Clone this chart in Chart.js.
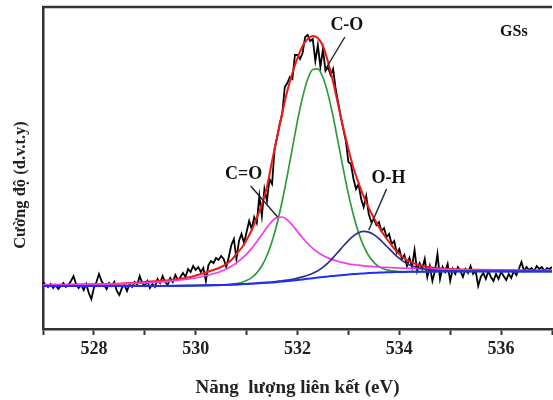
<!DOCTYPE html>
<html>
<head>
<meta charset="utf-8">
<script src="https://cdn.jsdelivr.net/npm/chart.js@4.4.1/dist/chart.umd.min.js"></script>
<style>
body {
  margin: 0;
  overflow: hidden;
  background: #ffffff;
}
.chart-container {
  position: relative;
  width: 556px;
  height: 400px;
}
</style>
</head>
<body>

<div class="chart-container">
  <canvas id="chart"></canvas>
</div>

<script>
// x (eV) cua cac duong fit
var fitEnergy = [527, 527.5, 528, 528.5, 529, 529.4, 529.8, 530.1,
  530.4, 530.5, 530.6, 530.7, 530.8, 530.9, 531.0, 531.1, 531.2, 531.3,
  531.4, 531.5, 531.6, 531.7, 531.8, 531.9, 532.0, 532.1, 532.2, 532.3,
  532.4, 532.5, 532.6, 532.7, 532.8, 532.9, 533.0, 533.1, 533.2, 533.3,
  533.4, 533.5, 533.6, 533.7, 533.8, 533.9, 534.0, 534.1, 534.2, 534.3,
  534.4, 534.7, 535, 535.5, 536, 536.5, 537];

// nen (blue)
var fitBackground = [43, 43, 43, 43, 43, 43.1, 43.3, 43.5,
  43.8, 43.9, 44.1, 44.3, 44.5, 44.7, 45.0, 45.3, 45.6, 45.9,
  46.2, 46.5, 47.0, 47.4, 47.9, 48.4, 49.0, 49.6, 50.2, 50.8,
  51.4, 52.0, 52.6, 53.1, 53.6, 54.1, 54.5, 54.9, 55.3, 55.6,
  55.9, 56.2, 56.4, 56.6, 56.8, 56.9, 57.0, 57.1, 57.2, 57.3,
  57.3, 57.4, 57.5, 57.5, 57.5, 57.5, 57.5];

// C-O (green)
var fitCO = [43, 43, 43, 43, 43, 43.1, 43.3, 43.5,
  43.8, 44.0, 44.3, 44.7, 45.4, 46.5, 48.4, 51.4, 56.1, 63.2,
  73.5, 87.5, 105.8, 128.0, 153.7, 181.1, 208.2, 231.9, 249.7, 259.5,
  260.1, 251.5, 234.9, 212.3, 186.3, 159.9, 135.1, 113.7, 96.3, 82.9,
  73.2, 66.7, 62.5, 60.0, 58.6, 57.8, 57.4, 57.3, 57.3, 57.3,
  57.3, 57.4, 57.5, 57.5, 57.5, 57.5, 57.5];

// C=O (magenta)
var fitCdO = [44.1, 44.3, 44.7, 45.3, 46.2, 47.4, 49.5, 52.0,
  56.0, 57.8, 60.1, 62.8, 66.1, 70.1, 74.9, 80.6, 87.2, 94.4,
  101.6, 107.7, 111.6, 112.0, 109.1, 103.8, 97.5, 91.2, 85.5, 80.7,
  76.8, 73.6, 71.1, 69.1, 67.5, 66.3, 65.2, 64.4, 63.8, 63.2,
  62.7, 62.4, 62.0, 61.7, 61.5, 61.2, 61.0, 60.8, 60.6, 60.5,
  60.3, 59.8, 59.5, 59.0, 58.7, 58.5, 58.3];

// O-H (navy)
var fitOH = [43, 43, 43, 43, 43, 43.1, 43.3, 43.6,
  43.9, 44.0, 44.2, 44.4, 44.6, 44.9, 45.2, 45.5, 45.9, 46.3,
  46.6, 47.0, 47.6, 48.2, 48.9, 49.7, 50.8, 52.1, 53.7, 55.8,
  58.3, 61.8, 66.2, 71.4, 77.1, 83.0, 88.4, 93.1, 96.3, 97.6,
  96.9, 94.4, 90.3, 85.4, 80.3, 75.2, 70.6, 66.9, 64.1, 62.3,
  60.8, 58.7, 58.1, 57.8, 57.7, 57.6, 57.6];

// tong fit (red)
var fitEnvelope = [44.1, 44.3, 44.7, 45.3, 47, 48.5, 51, 55,
  60, 62, 65, 69, 75, 81, 89, 99, 111, 125,
  142, 168, 192, 216, 238, 256, 271, 283, 290, 293,
  291, 283, 267, 247, 224, 201, 180, 161, 146, 132.5,
  121, 111, 102, 94, 87, 80.4, 75, 70.8, 67.6, 65.5,
  63.8, 61.1, 60.1, 59.3, 58.9, 58.6, 58.4];

// so lieu do (black), 527.00 -> 537.00 eV, buoc 0.05 eV
var rawStart = 527.0;
var rawStep = 0.05;
var rawCounts = [
  47, 44, 42, 45, 41, 44, 40, 43, 46, 42, 44, 48, 53, 45, 41, 44, 39, 45, 36, 30,
  41, 47, 55, 48, 44, 40, 46, 43, 47, 38, 34, 41, 44, 38, 45, 42, 47, 44, 53, 46,
  43, 48, 41, 45, 42, 50, 46, 53, 47, 44, 51, 47, 54, 49, 52, 56, 52, 60, 57, 63,
  59, 62, 57, 61, 48, 64, 68, 66, 71, 69, 73, 70, 62, 72, 84, 90, 70, 88, 95, 86,
  97, 108, 100, 112, 106, 133, 113, 140, 128, 150, 145, 180, 192, 205, 215, 242, 246, 252, 250, 274,
  274, 270, 276, 292, 294, 288, 290, 268, 284, 262, 280, 258, 262, 254, 260, 240, 226, 212, 200, 188,
  167, 165, 150, 140, 145, 130, 122, 133, 115, 107, 110, 104, 107, 98, 101, 92, 95, 85, 88, 76,
  80, 70, 74, 63, 71, 62, 79, 58, 66, 60, 70, 52, 63, 48, 58, 75, 50, 62, 57, 65,
  48, 60, 55, 62, 58, 52, 60, 56, 63, 55, 58, 43, 52, 56, 50, 58, 52, 48, 55, 50,
  57, 53, 49, 55, 51, 58, 54, 60, 67, 58, 62, 59, 61, 58, 63, 60, 62, 58, 61, 60,
  62];

var xTicksMin = 527;
var xTicksMax = 537;

// nhan tren do thi
var peakLabels = [
  {text: "C-O", x: 532.97, y: 304, from: [532.93, 292], to: [532.54, 259]},
  {text: "C=O", x: 530.94, y: 155, from: [531.08, 143], to: [531.61, 112]},
  {text: "O-H", x: 533.79, y: 151, from: [533.75, 140], to: [533.40, 99]},
  {text: "GSs", x: 536.25, y: 297}
];

function pairs(xs, ys) {
  var out = [];
  for (var i = 0; i < ys.length; i++) out.push({x: xs[i], y: ys[i]});
  return out;
}

var rawData = [];
for (var i = 0; i < rawCounts.length; i++) {
  rawData.push({x: +(rawStart + i * rawStep).toFixed(2), y: rawCounts[i]});
}

var serif = "'Liberation Serif', 'Times New Roman', serif";

// ve khung tren, nhan va tieu de truc y
var decorations = {
  id: "decorations",
  afterDatasetsDraw: function(chart) {
    var ctx = chart.ctx;
    var a = chart.chartArea;
    var sx = chart.scales.x, sy = chart.scales.y;
    ctx.save();
    ctx.strokeStyle = "#333";
    ctx.lineWidth = 2.5;
    ctx.beginPath();
    ctx.moveTo(a.left - 1, a.top);
    ctx.lineTo(a.right, a.top);
    ctx.stroke();

    ctx.fillStyle = "#111";
    ctx.strokeStyle = "#222";
    ctx.lineWidth = 1.4;
    ctx.textAlign = "center";
    ctx.textBaseline = "middle";
    peakLabels.forEach(function(l) {
      ctx.font = "bold " + (l.text == "GSs" ? 16 : 18) + "px " + serif;
      ctx.fillText(l.text, sx.getPixelForValue(l.x), sy.getPixelForValue(l.y));
      if (l.from) {
        ctx.beginPath();
        ctx.moveTo(sx.getPixelForValue(l.from[0]), sy.getPixelForValue(l.from[1]));
        ctx.lineTo(sx.getPixelForValue(l.to[0]), sy.getPixelForValue(l.to[1]));
        ctx.stroke();
      }
    });

    ctx.translate(21, 185);
    ctx.rotate(-Math.PI / 2);
    ctx.fillStyle = "#222";
    ctx.font = "bold 16.5px " + serif;
    ctx.fillText("Cường độ (d.v.t.y)", 0, 0);
    ctx.restore();
  }
};

function line(label, data, color, width, order, smooth) {
  return {
    label: label,
    data: data,
    borderColor: color,
    borderWidth: width,
    pointRadius: 0,
    fill: false,
    order: order,
    tension: 0,
    cubicInterpolationMode: smooth ? "monotone" : "default"
  };
}

var ctx = document.getElementById("chart");
var chart = new Chart(ctx, {
  type: "line",
  data: {
    datasets: [
      line("Nền", pairs(fitEnergy, fitBackground), "#1f2dff", 2, 1, true),
      line("O-H", pairs(fitEnergy, fitOH), "#2c2f8f", 1.7, 2, true),
      line("C=O", pairs(fitEnergy, fitCdO), "#f23cf0", 1.7, 3, true),
      line("C-O", pairs(fitEnergy, fitCO), "#2f9a3a", 1.7, 4, true),
      line("Fit", pairs(fitEnergy, fitEnvelope), "#f01818", 2, 5, true),
      line("GSs", rawData, "#000000", 1.8, 6, false)
    ]
  },
  options: {
    responsive: true,
    maintainAspectRatio: false,
    animation: false,
    layout: {padding: {top: 7, left: 0, right: 0, bottom: 0}},
    plugins: {
      legend: {display: false},
      tooltip: {enabled: false}
    },
    scales: {
      x: {
        type: "linear",
        min: xTicksMin,
        max: xTicksMax,
        afterFit: function(s) { s.height = 71; },
        border: {display: true, color: "#333", width: 2.5},
        grid: {drawOnChartArea: false, drawTicks: true, tickLength: 6, tickWidth: 2, tickColor: "#333"},
        ticks: {
          stepSize: 1,
          padding: 4,
          color: "#222",
          font: {family: serif, size: 18, weight: "bold"},
          callback: function(v) { return v % 2 === 0 ? v : ""; }
        },
        title: {
          display: true,
          text: "Năng  lượng liên kết (eV)",
          color: "#222",
          font: {family: serif, size: 19, weight: "bold"},
          padding: {top: 0, bottom: 1}
        }
      },
      y: {
        min: 0,
        max: 322,
        afterFit: function(s) { s.width = 43; },
        border: {display: true, color: "#333", width: 2.5},
        grid: {display: false},
        ticks: {display: false}
      }
    }
  },
  plugins: [decorations]
});
</script>

</body>
</html>
